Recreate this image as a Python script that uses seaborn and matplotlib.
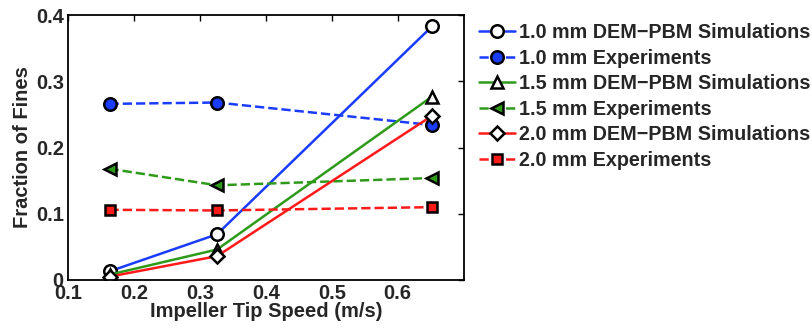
import pandas as pd
import matplotlib
matplotlib.use("Agg")
import matplotlib.pyplot as plt
import seaborn as sns

speed = [0.163, 0.326, 0.652]

sim_10 = [0.013, 0.069, 0.383]
exp_10 = [0.266, 0.268, 0.234]
sim_15 = [0.008, 0.046, 0.277]
exp_15 = [0.168, 0.143, 0.154]
sim_20 = [0.005, 0.036, 0.248]
exp_20 = [0.106, 0.105, 0.110]

labels = ["1.0 mm DEM\u2212PBM Simulations", "1.0 mm Experiments",
          "1.5 mm DEM\u2212PBM Simulations", "1.5 mm Experiments",
          "2.0 mm DEM\u2212PBM Simulations", "2.0 mm Experiments"]
series = [sim_10, exp_10, sim_15, exp_15, sim_20, exp_20]

sns.set_style("white")
plt.rcParams["font.family"] = ["Liberation Sans", "DejaVu Sans"]
plt.rcParams["font.weight"] = "bold"

# стиль: цвет линии, штрих, маркер, заливка маркера
styles = [
    ("#1a3cff", "-", "o", "white"),
    ("#1a3cff", "--", "o", "#1a3cff"),
    ("#2e9a1a", "-", "^", "white"),
    ("#2e9a1a", "--", "<", "#2e9a1a"),
    ("#ff1a1a", "-", "D", "white"),
    ("#ff1a1a", "--", "s", "#ff1a1a"),
]

fig = plt.figure(figsize=(8.12, 3.29), dpi=100)
ax = fig.add_axes([0.0837, 0.149, 0.4873, 0.805])

for lab, vals, (c, ls, m, fc) in zip(labels, series, styles):
    df = pd.DataFrame({"speed": speed, "fines": vals})
    ms = 7 if m in ("D", "s") else 9
    sns.lineplot(data=df, x="speed", y="fines", ax=ax, color=c, linestyle=ls,
                 marker=m, markersize=ms, markerfacecolor=fc,
                 markeredgecolor="black", markeredgewidth=1.8,
                 linewidth=1.8, label=lab)

ax.set_xlim(0.1, 0.7)
ax.set_ylim(0, 0.4)
ax.set_xticks([0.1, 0.2, 0.3, 0.4, 0.5, 0.6])
ax.set_xticklabels(["0.1", "0.2", "0.3", "0.4", "0.5", "0.6"])
ax.set_yticks([0, 0.1, 0.2, 0.3, 0.4])
ax.set_yticklabels(["0", "0.1", "0.2", "0.3", "0.4"])
ax.tick_params(direction="in", top=True, right=True, length=4, width=1,
               labelsize=14.5, pad=3, color="black")
for sp in ax.spines.values():
    sp.set_color("black")
    sp.set_linewidth(1.3)
for t in ax.get_xticklabels() + ax.get_yticklabels():
    t.set_fontweight("bold")
ax.set_xlabel("Impeller Tip Speed (m/s)", fontsize=14.5, fontweight="bold", labelpad=-1)
ax.set_ylabel("Fraction of Fines", fontsize=14.5, fontweight="bold", labelpad=3)

ax.legend(loc="upper left", bbox_to_anchor=(1.02, 1.0), frameon=False,
          prop={"size": 14.2, "weight": "bold"}, handlelength=1.8,
          handletextpad=0.2, labelspacing=0.33, borderaxespad=0.0)

fig.savefig("out.png", dpi=100)
